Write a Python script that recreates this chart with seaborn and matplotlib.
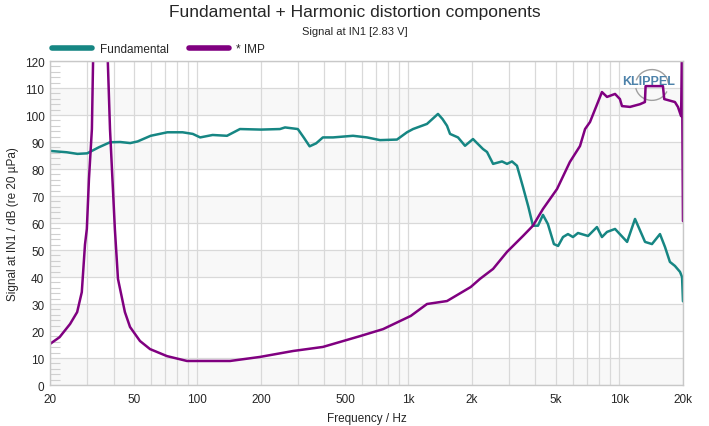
import numpy as np
import pandas as pd
import seaborn as sns
import matplotlib.pyplot as plt
from matplotlib.patches import Arc
from matplotlib.ticker import FixedLocator, NullFormatter, MultipleLocator

# Fundamental curve (Hz, dB)
fund_freq = [20, 24, 27, 30, 34, 38.5, 43, 48, 52, 60, 72, 85, 95, 103, 118, 138, 159, 200,
             246, 260, 299, 320, 340, 365, 393, 439, 546, 636, 733, 882, 984, 1051, 1224,
             1380, 1450, 1523, 1574, 1717, 1854, 2022, 2255, 2357, 2518, 2776, 2931, 3095,
             3268, 3490, 3700, 3890, 4110, 4340, 4580, 4890, 5120, 5400, 5700, 6020, 6360,
             7100, 7820, 8260, 8730, 9530, 10870, 11850, 13220, 14260, 15560, 16440, 17340,
             18320, 19360, 19800, 20000]
fund_db = [86.7, 86.2, 85.6, 85.8, 88.0, 89.9, 90.0, 89.6, 90.2, 92.3, 93.6, 93.6, 93.0, 91.7,
           92.6, 92.3, 94.8, 94.6, 94.8, 95.4, 94.8, 91.5, 88.4, 89.5, 91.7, 91.7, 92.3, 91.7,
           90.7, 90.9, 93.6, 94.8, 96.7, 100.4, 98.5, 96.0, 93.0, 91.7, 88.6, 91.1, 87.4, 86.3,
           81.9, 82.8, 81.9, 82.8, 81.2, 73.3, 66.0, 59.0, 59.0, 63.0, 59.6, 52.2, 51.5, 54.8,
           55.9, 54.8, 56.3, 55.2, 58.5, 54.8, 56.7, 57.8, 53.0, 61.5, 53.0, 52.2, 55.9, 51.1,
           45.6, 44.1, 41.9, 40.0, 31.0]

# Impedance curve (Hz, value)
imp_freq = [20, 22.2, 24.9, 26.9, 28.3, 29.3, 29.9, 30.6, 31.6, 32.0, 34.5, 37.6, 38.5, 40.6,
            42.0, 45.3, 47.9, 53.4, 59.6, 71.7, 89.2, 142.7, 197.8, 284, 393, 589, 758, 1026,
            1224, 1523, 1973, 2182, 2518, 2931, 3490, 3890, 4340, 5060, 5820, 6500, 6870, 7250,
            7910, 8260, 8730, 9530, 10050, 10280, 11220, 12510, 13200, 13300, 16070, 16300,
            18320, 18930, 19580, 19790, 20000]
imp_val = [15.2, 17.7, 22.6, 27.0, 34.4, 52.0, 57.8, 76.3, 94.8, 119.6, 150.0, 119.6, 94.8, 57.8,
           39.3, 27.0, 21.5, 16.3, 13.3, 10.7, 8.9, 8.9, 10.4, 12.6, 14.1, 18.1, 20.7, 25.6,
           30.0, 31.1, 36.3, 39.3, 43.0, 49.3, 55.2, 59.0, 65.2, 72.6, 82.6, 88.5, 94.8, 97.4,
           104.8, 108.5, 106.7, 107.8, 105.9, 103.3, 103.0, 104.0, 104.8, 110.7, 110.7, 105.9,
           104.8, 103.0, 99.6, 119.6, 60.7]

x_ticks = [20, 50, 100, 200, 500, 1000, 2000, 5000, 10000, 20000]
x_labels = ["20", "50", "100", "200", "500", "1k", "2k", "5k", "10k", "20k"]

teal = "#168683"
purple = "#800080"

sns.set_style("white")
plt.rcParams['font.family'] = ['Liberation Sans', 'DejaVu Sans']

fig = plt.figure(figsize=(7.09, 4.27), dpi=100)
ax = fig.add_axes([0.0705, 0.096, 0.8928, 0.7588])

df_f = pd.DataFrame({"freq": fund_freq, "val": fund_db})
df_i = pd.DataFrame({"freq": imp_freq, "val": imp_val})

# grey bands
for lo in range(0, 120, 20):
    ax.axhspan(lo, lo + 10, color="#f8f8f8", zorder=0, lw=0)

sns.lineplot(data=df_f, x="freq", y="val", ax=ax, color=teal, lw=1.8, label="Fundamental",
             estimator=None, sort=False)
sns.lineplot(data=df_i, x="freq", y="val", ax=ax, color=purple, lw=1.8, label="* IMP",
             estimator=None, sort=False)

ax.set_xscale("log")
ax.set_xlim(20, 20000)
ax.set_ylim(0, 120)

minor = [v * m for m in [10, 100, 1000] for v in range(2, 10)] + [20000]
minor = [v for v in minor if 20 <= v <= 20000]
ax.xaxis.set_major_locator(FixedLocator(x_ticks))
ax.set_xticklabels(x_labels)
ax.xaxis.set_minor_locator(FixedLocator(minor))
ax.xaxis.set_minor_formatter(NullFormatter())
ax.yaxis.set_major_locator(MultipleLocator(10))
ax.yaxis.set_minor_locator(MultipleLocator(2))

ax.grid(True, which="both", axis="x", color="#d9d9d9", lw=0.9)
ax.grid(True, which="major", axis="y", color="#d9d9d9", lw=0.9)
ax.set_axisbelow(True)
ax.tick_params(axis="x", which="both", length=0, labelsize=8.5, pad=6)
ax.tick_params(axis="y", which="major", length=0, labelsize=8.5, pad=4)
ax.tick_params(axis="y", which="minor", direction="in", length=7, color="#d0d0d0", width=0.8, left=True)
for s in ax.spines.values():
    s.set_color("#c8c8c8")
    s.set_linewidth(1.0)

ax.set_xlabel("Frequency / Hz", fontsize=8.5, labelpad=5)
ax.set_ylabel("Signal at IN1 / dB (re 20 µPa)", fontsize=8.5, labelpad=4)

fig.text(0.5, 0.97, "Fundamental + Harmonic distortion components", ha="center", va="center",
         fontsize=12.5)
fig.text(0.5, 0.926, "Signal at IN1 [2.83 V]", ha="center", va="center", fontsize=8)

ax.legend(loc="lower left", bbox_to_anchor=(0.0, 1.01), ncol=2, frameon=False, fontsize=8.5,
          handlelength=3.4, handletextpad=0.6, columnspacing=1.7, borderaxespad=0.1,
          borderpad=0.1)
for line in ax.get_legend().get_lines():
    line.set_linewidth(4.0)

# KLIPPEL logo
ax.add_patch(Arc((0.951, 0.926), 0.052, 0.095, transform=ax.transAxes, theta1=10, theta2=150,
                 color="#a0a0a0", lw=1.0))
ax.add_patch(Arc((0.951, 0.926), 0.052, 0.095, transform=ax.transAxes, theta1=200, theta2=320,
                 color="#a0a0a0", lw=1.0))
ax.text(0.946, 0.938, "KLIPPEL", transform=ax.transAxes, ha="center", va="center",
        fontsize=9, color="#4d82aa", fontweight="bold")

fig.savefig("out.png", dpi=100)
